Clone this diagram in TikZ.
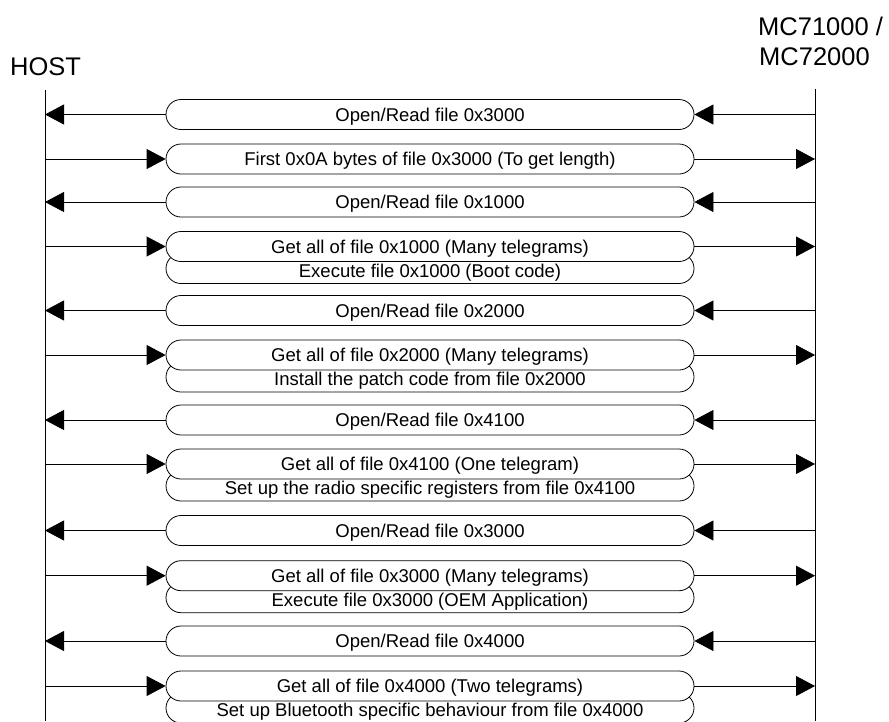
\documentclass[tikz,border=0pt]{standalone}
\usepackage{fontspec}
\setmainfont{Liberation Sans}
\usetikzlibrary{arrows.meta,shapes.misc}
\tikzset{
  msgbox/.style={draw, fill=white, rounded rectangle, minimum width=528pt, minimum height=30pt,
    inner sep=0pt, font=\fontsize{18.5}{22}\selectfont, text height=13.5pt, text depth=0pt, line width=0.8pt},
  lowtext/.style={inner sep=0pt, font=\fontsize{18.5}{22}\selectfont, text height=13.5pt, text depth=0pt},
  arr/.style={-{Triangle[length=19pt,width=20pt]}, line width=0.8pt},
  life/.style={line width=0.8pt},
  hdr/.style={font=\fontsize{25.5}{30}\selectfont, anchor=base west, inner sep=0pt}
}
\begin{document}
\begin{tikzpicture}[x=1pt,y=-1pt]
\useasboundingbox (0,0) rectangle (889,721);
% headers
\node[hdr] (host) at (10,75) {HOST};
\node[hdr] (mc1) at (758,35) {MC71000 /};
\node[hdr] (mc2) at (759,65) {MC72000};
% lifelines
\coordinate (hT) at (45,90); \coordinate (hB) at (45,721);
\coordinate (mT) at (815,89); \coordinate (mB) at (815,721);
\draw[life] (hT) -- (hB);
\draw[life] (mT) -- (mB);
% row 1 (left)
\node[msgbox] (b1) at (430,114.5) {Open/Read file 0x3000};
\coordinate (h1) at (45,114.5); \coordinate (m1) at (815,114.5);
\draw[arr] (m1) -- (b1.east); \draw[arr] (b1.west) -- (h1);
% row 2 (right)
\node[msgbox] (b2) at (430,159) {First 0x0A bytes of file 0x3000 (To get length)};
\coordinate (h2) at (45,159); \coordinate (m2) at (815,159);
\draw[arr] (h2) -- (b2.west); \draw[arr] (b2.east) -- (m2);
% row 3 (left)
\node[msgbox] (b3) at (430,202) {Open/Read file 0x1000};
\coordinate (h3) at (45,202); \coordinate (m3) at (815,202);
\draw[arr] (m3) -- (b3.east); \draw[arr] (b3.west) -- (h3);
% row 4 (right, pair)
\node[msgbox] (c4) at (430,268.5) {};
\node[msgbox] (b4) at (430,246.5) {Get all of file 0x1000 (Many telegrams)};
\node[lowtext] (t4) at (430,270.5) {Execute file 0x1000 (Boot code)};
\coordinate (h4) at (45,246.5); \coordinate (m4) at (815,246.5);
\draw[arr] (h4) -- (b4.west); \draw[arr] (b4.east) -- (m4);
% row 5 (left)
\node[msgbox] (b5) at (430,310.5) {Open/Read file 0x2000};
\coordinate (h5) at (45,310.5); \coordinate (m5) at (815,310.5);
\draw[arr] (m5) -- (b5.east); \draw[arr] (b5.west) -- (h5);
% row 6 (right, pair)
\node[msgbox] (c6) at (430,377) {};
\node[msgbox] (b6) at (430,355) {Get all of file 0x2000 (Many telegrams)};
\node[lowtext] (t6) at (430,379) {Install the patch code from file 0x2000};
\coordinate (h6) at (45,355); \coordinate (m6) at (815,355);
\draw[arr] (h6) -- (b6.west); \draw[arr] (b6.east) -- (m6);
% row 7 (left)
\node[msgbox] (b7) at (430,420) {Open/Read file 0x4100};
\coordinate (h7) at (45,420); \coordinate (m7) at (815,420);
\draw[arr] (m7) -- (b7.east); \draw[arr] (b7.west) -- (h7);
% row 8 (right, pair)
\node[msgbox] (c8) at (430,486) {};
\node[msgbox] (b8) at (430,464) {Get all of file 0x4100 (One telegram)};
\node[lowtext] (t8) at (430,488) {Set up the radio specific registers from file 0x4100};
\coordinate (h8) at (45,464); \coordinate (m8) at (815,464);
\draw[arr] (h8) -- (b8.west); \draw[arr] (b8.east) -- (m8);
% row 9 (left)
\node[msgbox] (b9) at (430,530.5) {Open/Read file 0x3000};
\coordinate (h9) at (45,530.5); \coordinate (m9) at (815,530.5);
\draw[arr] (m9) -- (b9.east); \draw[arr] (b9.west) -- (h9);
% row 10 (right, pair)
\node[msgbox] (c10) at (430,597.7) {};
\node[msgbox] (b10) at (430,575.7) {Get all of file 0x3000 (Many telegrams)};
\node[lowtext] (t10) at (430,599.7) {Execute file 0x3000 (OEM Application)};
\coordinate (h10) at (45,575.7); \coordinate (m10) at (815,575.7);
\draw[arr] (h10) -- (b10.west); \draw[arr] (b10.east) -- (m10);
% row 11 (left)
\node[msgbox] (b11) at (430,641) {Open/Read file 0x4000};
\coordinate (h11) at (45,641); \coordinate (m11) at (815,641);
\draw[arr] (m11) -- (b11.east); \draw[arr] (b11.west) -- (h11);
% row 12 (right, pair)
\node[msgbox] (c12) at (430,708) {};
\node[msgbox] (b12) at (430,686) {Get all of file 0x4000 (Two telegrams)};
\node[lowtext] (t12) at (430,710) {Set up Bluetooth specific behaviour from file 0x4000};
\coordinate (h12) at (45,686); \coordinate (m12) at (815,686);
\draw[arr] (h12) -- (b12.west); \draw[arr] (b12.east) -- (m12);
\end{tikzpicture}
\end{document}
